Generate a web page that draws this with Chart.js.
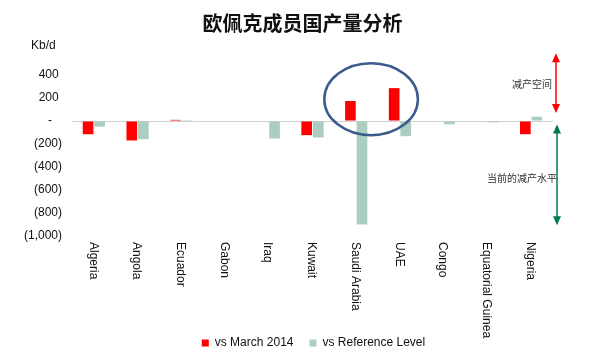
<!DOCTYPE html>
<html><head><meta charset="utf-8">
<script src="https://cdn.jsdelivr.net/npm/chart.js@4"></script>
<style>html,body{margin:0;padding:0;background:#fff}#w{width:597px;height:355px}</style>
</head><body><div id="w"><canvas id="c"></canvas></div>
<script>
const categories = ['Algeria','Angola','Ecuador','Gabon','Iraq','Kuwait','Saudi Arabia','UAE','Congo','Equatorial Guinea','Nigeria'];
const vsMarch2014 = [-115, -169, 10, 0, 0, -123, 174, 286, 0, 0, -115];
const vsReference = [-49, -158, 8, 0, -152, -143, -901, -132, -29, -12, 37];
const seriesNames = ['vs March 2014', 'vs Reference Level'];
const yMin = -1000, yMax = 400, yStep = 200;
const titleText = '欧佩克成员国产量分析';
const unitText = 'Kb/d';
const noteTop = '减产空间';
const noteBottom = '当前的减产水平';

const FONT = "'Liberation Sans', Arial, sans-serif";
const CJK = "'Noto Sans CJK SC', sans-serif";

const shift = {
  id: 'shift',
  afterLayout(chart) {
    const lg = chart.legend;
    if (lg) { lg.left += 37; lg.right += 37; lg.top += 6; lg.bottom += 6; }
    const tb = chart.titleBlock;
    if (tb) { tb.left += 26; tb.right += 26; }
  }
};

const annot = {
  id: 'annot',
  afterDraw(chart) {
    const {ctx, chartArea: ca, scales: {x, y}} = chart;
    ctx.save();
    ctx.fillStyle = '#111';
    ctx.font = '12px ' + FONT;
    ctx.textAlign = 'left';
    ctx.textBaseline = 'middle';
    categories.forEach((c, i) => {
      ctx.save();
      ctx.translate(x.getPixelForValue(i) - 1, ca.bottom + 6);
      ctx.rotate(Math.PI / 2);
      ctx.fillText(c, 0, 0);
      ctx.restore();
    });
    ctx.fillText(unitText, 31, 46);
    const step = x.getPixelForValue(1) - x.getPixelForValue(0);
    const cx = (x.getPixelForValue(6) + x.getPixelForValue(7)) / 2 - 7;
    const cy = y.getPixelForValue(190);
    ctx.beginPath();
    ctx.ellipse(cx, cy, step * 1.07, (y.getPixelForValue(0) - y.getPixelForValue(313)), 0, 0, Math.PI * 2);
    ctx.strokeStyle = '#3b5b8c';
    ctx.lineWidth = 2.5;
    ctx.stroke();
    function arrow(xp, v1, v2, col) {
      const y1 = y.getPixelForValue(v1), y2 = y.getPixelForValue(v2);
      ctx.strokeStyle = col; ctx.fillStyle = col; ctx.lineWidth = 1.5;
      ctx.beginPath(); ctx.moveTo(xp, y1 + 5); ctx.lineTo(xp, y2 - 5); ctx.stroke();
      ctx.beginPath(); ctx.moveTo(xp, y1); ctx.lineTo(xp - 4, y1 + 9); ctx.lineTo(xp + 4, y1 + 9); ctx.closePath(); ctx.fill();
      ctx.beginPath(); ctx.moveTo(xp, y2); ctx.lineTo(xp - 4, y2 - 9); ctx.lineTo(xp + 4, y2 - 9); ctx.closePath(); ctx.fill();
    }
    arrow(ca.right + 3, 590, 70, '#ff0000');
    arrow(ca.right + 4, -30, -907, '#007a55');
    ctx.fillStyle = '#333';
    ctx.font = '10px ' + CJK;
    ctx.textAlign = 'right';
    ctx.fillText(noteTop, ca.right - 1, y.getPixelForValue(320));
    ctx.fillText(noteBottom, ca.right + 4, y.getPixelForValue(-500));
    ctx.restore();
  }
};

new Chart(document.getElementById('c'), {
  type: 'bar',
  data: {
    labels: categories,
    datasets: [
      {label: seriesNames[0], data: vsMarch2014, backgroundColor: '#ff0000', categoryPercentage: 0.53, barPercentage: 0.92},
      {label: seriesNames[1], data: vsReference, backgroundColor: '#abcec1', categoryPercentage: 0.53, barPercentage: 0.92}
    ]
  },
  options: {
    responsive: true,
    maintainAspectRatio: false,
    animation: false,
    layout: {padding: {left: 0, right: 44, top: 0, bottom: 2}},
    plugins: {
      title: {display: true, text: titleText, color: '#111', font: {family: CJK, size: 20, weight: 'bold'}, padding: {top: 11, bottom: 40}},
      legend: {
        position: 'bottom',
        labels: {color: '#111', font: {family: FONT, size: 12}, boxWidth: 7, boxHeight: 7, padding: 16}
      },
      tooltip: {enabled: false}
    },
    scales: {
      x: {
        ticks: {display: false},
        grid: {display: false, drawTicks: false},
        border: {display: false},
        afterFit(s) { s.height = 79; }
      },
      y: {
        min: yMin, max: yMax,
        ticks: {
          stepSize: yStep, padding: 10, color: '#111', font: {family: FONT, size: 12},
          callback: v => v === 0 ? '-   ' : (v < 0 ? '(' + Math.abs(v).toLocaleString('en-US') + ')' : v + ' ')
        },
        grid: {drawTicks: false, color: c => c.tick && c.tick.value === 0 ? '#d0d0d0' : 'rgba(0,0,0,0)'},
        border: {display: false},
        afterFit(s) { s.width = 72; }
      }
    }
  },
  plugins: [shift, annot]
});
</script></body></html>
